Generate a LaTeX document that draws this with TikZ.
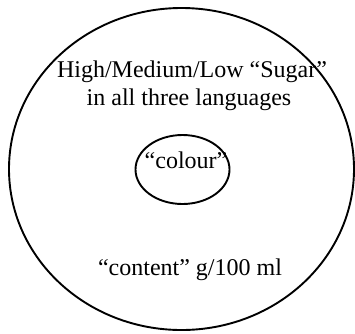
\documentclass[tikz,border=0pt]{standalone}
\usepackage{fontspec}
\setmainfont{Liberation Serif}
\begin{document}
\begin{tikzpicture}[x=1pt,y=-1pt,
  ring/.style={draw=black,line width=1.9pt},
  lbl/.style={font=\fontsize{24}{28}\selectfont,anchor=base,inner sep=0pt}]
\useasboundingbox (0,0) rectangle (355,333);
\draw[ring] (181.5,169) ellipse [x radius=172.5, y radius=161];
\draw[ring] (182.5,169.5) ellipse [x radius=47, y radius=34.5];
\node[lbl] (l1) at (192,77) {High/Medium/Low “Sugar”};
\node[lbl] (l2) at (189,105) {in all three languages};
\node[lbl] (col) at (186,168) {“colour”};
\node[lbl] (con) at (190,275) {“content” g/100 ml};
\end{tikzpicture}
\end{document}
